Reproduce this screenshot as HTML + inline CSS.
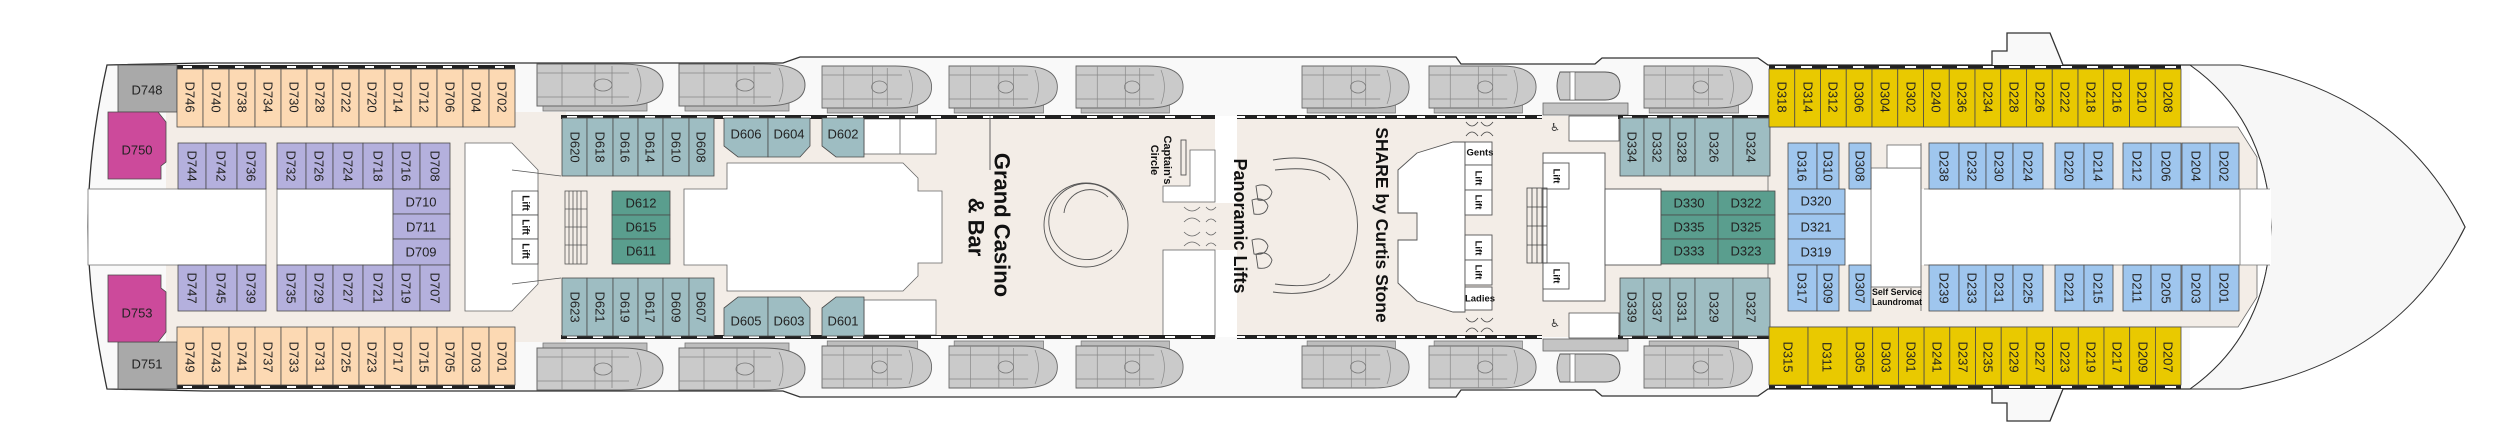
<!DOCTYPE html>
<html><head><meta charset="utf-8"><style>
html,body{margin:0;padding:0;background:#fff;}
svg{display:block;}
.t{font-family:"Liberation Sans",sans-serif;font-size:13px;fill:#222;text-anchor:middle;dominant-baseline:central;}
.b{font-family:"Liberation Sans",sans-serif;font-weight:bold;fill:#111;text-anchor:middle;dominant-baseline:central;}
.c{stroke:#4a4a4a;stroke-width:0.8;}
</style></head><body>
<svg width="2520" height="448" viewBox="0 0 2520 448" xmlns="http://www.w3.org/2000/svg">
<defs>
<g id="lb">
<rect x="6" y="38" width="104" height="9" fill="#bdbdbd" stroke="#777" stroke-width="0.8"/>
<path d="M0,0 H84 Q126,0 126,21 Q126,42 84,42 H0 Z" fill="#cacaca" stroke="#666" stroke-width="1"/>
<path d="M25,0 V42 M58,0 V42 M75,2 V40 M0,9 H92 M0,33 H92 M100,4 Q108,21 100,38" fill="none" stroke="#888" stroke-width="0.8"/>
<ellipse cx="66" cy="21" rx="9" ry="6" fill="none" stroke="#777" stroke-width="0.8"/>
</g>
</defs>

<!-- hull -->
<path d="M204,63 L783,63 L800,57 L1456,57 L1461,64 L1595,64 L1602,58 L1758,58 L1768,65 L1992,65 L1992,51 L2007,51 L2007,33 L2050,33 L2063,65 L2190,65 Q2400,95 2465,227 Q2400,359 2190,389 L2063,389 L2050,421 L2007,421 L2007,403 L1992,403 L1992,389 L1768,389 L1758,396 L1602,396 L1595,390 L1461,390 L1456,397 L800,397 L783,391 L204,391 L107,389 Q88,300 88,227 Q88,150 107,65 Z" fill="#f9f9f9" stroke="#333" stroke-width="1.3"/>
<path d="M2190,65 Q2268,120 2271,227 Q2268,334 2190,389" fill="#ffffff" stroke="#333" stroke-width="1"/>
<path d="M2190,65 L2240,65 Q2400,95 2465,227 Q2400,359 2240,389 L2190,389 Q2268,334 2271,227 Q2268,120 2190,65 Z" fill="#f7f7f7" stroke="#333" stroke-width="1"/>

<!-- beige public areas -->
<rect x="166" y="112" width="400" height="230" fill="#f3ede7"/>
<rect x="536" y="116" width="679" height="221" fill="#f3ede7"/>
<rect x="1237" y="116" width="531" height="221" fill="#f3ede7"/>
<rect x="1215" y="203" width="22" height="47" fill="#f3ede7"/>
<polygon points="1768,127 2238,127 2257,157 2257,297 2238,327 1768,327" fill="#f3ede7" stroke="#666" stroke-width="0.8"/>

<!-- white voids -->
<rect x="88" y="189" width="178" height="76" fill="#fff" stroke="#777" stroke-width="0.8"/>
<rect x="277" y="189" width="116" height="76" fill="#fff" stroke="#777" stroke-width="0.8"/>
<polygon points="465,143 512,143 538,170 538,284 512,311 465,311" fill="#fff" stroke="#666" stroke-width="0.8"/>
<polygon points="684,189 727,189 727,163 903,163 918,178 918,191 942,191 942,263 918,263 918,276 903,291 727,291 727,265 684,265" fill="#fff" stroke="#666" stroke-width="0.8"/>
<rect x="864" y="119" width="72" height="35" fill="#fff" stroke="#666" stroke-width="0.8"/>
<line x1="900" y1="119" x2="900" y2="154" stroke="#666" stroke-width="0.8"/>
<rect x="864" y="300" width="72" height="35" fill="#fff" stroke="#666" stroke-width="0.8"/>
<rect x="1215" y="116" width="22" height="87" fill="#fff"/>
<rect x="1215" y="250" width="22" height="87" fill="#fff"/>
<polygon points="1190,150 1215,150 1215,202 1163,202 1163,186 1190,186" fill="#fff" stroke="#666" stroke-width="0.8"/>
<rect x="1163" y="250" width="52" height="87" fill="#fff" stroke="#666" stroke-width="0.8"/>
<polygon points="1417,153 1453,142 1465,142 1465,312 1453,312 1417,301 1398,283 1398,240 1417,240 1417,213 1398,213 1398,170" fill="#fff" stroke="#555" stroke-width="0.9"/>
<rect x="1543" y="153" width="62" height="148" fill="#fff" stroke="#555" stroke-width="0.9"/>
<rect x="1605" y="189" width="56" height="76" fill="#fff" stroke="#555" stroke-width="0.9"/>
<rect x="1569" y="116" width="50" height="25" fill="#fff" stroke="#555" stroke-width="0.8"/>
<rect x="1569" y="313" width="50" height="25" fill="#fff" stroke="#555" stroke-width="0.8"/>
<rect x="1845" y="189" width="80" height="76" fill="#fff"/>
<rect x="1871" y="168" width="50" height="119" fill="#fff" stroke="#666" stroke-width="0.8"/>
<rect x="1887" y="145" width="34" height="23" fill="#fff" stroke="#666" stroke-width="0.8"/>
<rect x="1924" y="189" width="347" height="76" fill="#fff"/>
<line x1="1924" y1="189" x2="2270" y2="189" stroke="#777" stroke-width="0.8"/>
<line x1="1924" y1="265" x2="2270" y2="265" stroke="#777" stroke-width="0.8"/>
<line x1="2240" y1="189" x2="2240" y2="265" stroke="#777" stroke-width="0.8"/>
<line x1="1921" y1="143" x2="1921" y2="311" stroke="#666" stroke-width="0.8"/>

<!-- lifeboats top -->
<use href="#lb" transform="translate(537,64) scale(1,1)"/>
<use href="#lb" transform="translate(679,64) scale(1,1)"/>
<use href="#lb" transform="translate(822,66) scale(0.87,1)"/>
<use href="#lb" transform="translate(949,66) scale(0.86,1)"/>
<use href="#lb" transform="translate(1076,66) scale(0.85,1)"/>
<use href="#lb" transform="translate(1302,66) scale(0.85,1)"/>
<use href="#lb" transform="translate(1429,66) scale(0.85,1)"/>
<use href="#lb" transform="translate(1644,66) scale(0.86,1)"/>
<!-- lifeboats bottom -->
<use href="#lb" transform="translate(537,390) scale(1,-1)"/>
<use href="#lb" transform="translate(679,390) scale(1,-1)"/>
<use href="#lb" transform="translate(822,388) scale(0.87,-1)"/>
<use href="#lb" transform="translate(949,388) scale(0.86,-1)"/>
<use href="#lb" transform="translate(1076,388) scale(0.85,-1)"/>
<use href="#lb" transform="translate(1302,388) scale(0.85,-1)"/>
<use href="#lb" transform="translate(1429,388) scale(0.85,-1)"/>
<use href="#lb" transform="translate(1644,388) scale(0.86,-1)"/>
<!-- tenders -->
<rect x="1543" y="103" width="85" height="12" fill="#c4c4c4" stroke="#666" stroke-width="0.8"/>
<path d="M1560,72 H1605 Q1620,72 1620,86 Q1620,100 1605,100 H1560 Q1554,86 1560,72 Z" fill="#cacaca" stroke="#555" stroke-width="0.9"/>
<rect x="1570" y="72" width="5" height="28" fill="#fff" stroke="#555" stroke-width="0.6"/>
<rect x="1543" y="339" width="85" height="12" fill="#c4c4c4" stroke="#666" stroke-width="0.8"/>
<path d="M1560,354 H1605 Q1620,354 1620,368 Q1620,382 1605,382 H1560 Q1554,368 1560,354 Z" fill="#cacaca" stroke="#555" stroke-width="0.9"/>
<rect x="1570" y="354" width="5" height="28" fill="#fff" stroke="#555" stroke-width="0.6"/>

<!-- window bands -->
<g stroke-linecap="butt">
<line x1="177" y1="67" x2="515" y2="67" stroke="#222" stroke-width="4"/>
<line x1="177" y1="67" x2="515" y2="67" stroke="#fff" stroke-width="2" stroke-dasharray="9 17" stroke-dashoffset="-6"/>
<line x1="177" y1="387" x2="515" y2="387" stroke="#222" stroke-width="4"/>
<line x1="177" y1="387" x2="515" y2="387" stroke="#fff" stroke-width="2" stroke-dasharray="9 17" stroke-dashoffset="-6"/>
<line x1="561" y1="117" x2="1215" y2="117" stroke="#222" stroke-width="4"/>
<line x1="561" y1="117" x2="1215" y2="117" stroke="#fff" stroke-width="2" stroke-dasharray="10 16" stroke-dashoffset="-6"/>
<line x1="561" y1="337" x2="1215" y2="337" stroke="#222" stroke-width="4"/>
<line x1="561" y1="337" x2="1215" y2="337" stroke="#fff" stroke-width="2" stroke-dasharray="10 16" stroke-dashoffset="-6"/>
<line x1="1237" y1="117" x2="1542" y2="117" stroke="#222" stroke-width="4"/>
<line x1="1237" y1="117" x2="1542" y2="117" stroke="#fff" stroke-width="2" stroke-dasharray="8 12"/>
<line x1="1237" y1="337" x2="1542" y2="337" stroke="#222" stroke-width="4"/>
<line x1="1237" y1="337" x2="1542" y2="337" stroke="#fff" stroke-width="2" stroke-dasharray="8 12"/>
<line x1="1618" y1="117" x2="1770" y2="117" stroke="#222" stroke-width="4"/>
<line x1="1618" y1="117" x2="1770" y2="117" stroke="#fff" stroke-width="2" stroke-dasharray="9 16" stroke-dashoffset="-5"/>
<line x1="1618" y1="337" x2="1770" y2="337" stroke="#222" stroke-width="4"/>
<line x1="1618" y1="337" x2="1770" y2="337" stroke="#fff" stroke-width="2" stroke-dasharray="9 16" stroke-dashoffset="-5"/>
<line x1="1769" y1="67" x2="2181" y2="67" stroke="#222" stroke-width="4"/>
<line x1="1769" y1="67" x2="2181" y2="67" stroke="#fff" stroke-width="2" stroke-dasharray="11 15" stroke-dashoffset="-6"/>
<line x1="1769" y1="387" x2="2181" y2="387" stroke="#222" stroke-width="4"/>
<line x1="1769" y1="387" x2="2181" y2="387" stroke="#fff" stroke-width="2" stroke-dasharray="11 15" stroke-dashoffset="-6"/>
</g>

<!-- stern grey & magenta -->
<g class="c">
<rect x="118" y="65" width="59" height="47" fill="#a9a9a9"/>
<rect x="118" y="342" width="59" height="47" fill="#a9a9a9"/>
<polygon points="108,112 158,112 166,122 166,162 161,166 161,179 108,179" fill="#cc4a9b"/>
<polygon points="108,275 161,275 161,288 166,292 166,332 158,342 108,342" fill="#cc4a9b"/>
</g>
<text class="t" x="147" y="90">D748</text>
<text class="t" x="137" y="150">D750</text>
<text class="t" x="137" y="313">D753</text>
<text class="t" x="147" y="364">D751</text>

<!-- orange -->
<g class="c" fill="#fcd9b3">
<rect x="177" y="69" width="26" height="58"/><rect x="203" y="69" width="26" height="58"/><rect x="229" y="69" width="26" height="58"/><rect x="255" y="69" width="26" height="58"/><rect x="281" y="69" width="26" height="58"/><rect x="307" y="69" width="26" height="58"/><rect x="333" y="69" width="26" height="58"/><rect x="359" y="69" width="26" height="58"/><rect x="385" y="69" width="26" height="58"/><rect x="411" y="69" width="26" height="58"/><rect x="437" y="69" width="26" height="58"/><rect x="463" y="69" width="26" height="58"/><rect x="489" y="69" width="26" height="58"/>
<rect x="177" y="327" width="26" height="58"/><rect x="203" y="327" width="26" height="58"/><rect x="229" y="327" width="26" height="58"/><rect x="255" y="327" width="26" height="58"/><rect x="281" y="327" width="26" height="58"/><rect x="307" y="327" width="26" height="58"/><rect x="333" y="327" width="26" height="58"/><rect x="359" y="327" width="26" height="58"/><rect x="385" y="327" width="26" height="58"/><rect x="411" y="327" width="26" height="58"/><rect x="437" y="327" width="26" height="58"/><rect x="463" y="327" width="26" height="58"/><rect x="489" y="327" width="26" height="58"/>
</g>
<g class="t">
<text transform="translate(190,97) rotate(90)">D746</text><text transform="translate(216,97) rotate(90)">D740</text><text transform="translate(242,97) rotate(90)">D738</text><text transform="translate(268,97) rotate(90)">D734</text><text transform="translate(294,97) rotate(90)">D730</text><text transform="translate(320,97) rotate(90)">D728</text><text transform="translate(346,97) rotate(90)">D722</text><text transform="translate(372,97) rotate(90)">D720</text><text transform="translate(398,97) rotate(90)">D714</text><text transform="translate(424,97) rotate(90)">D712</text><text transform="translate(450,97) rotate(90)">D706</text><text transform="translate(476,97) rotate(90)">D704</text><text transform="translate(502,97) rotate(90)">D702</text>
<text transform="translate(190,357) rotate(90)">D749</text><text transform="translate(216,357) rotate(90)">D743</text><text transform="translate(242,357) rotate(90)">D741</text><text transform="translate(268,357) rotate(90)">D737</text><text transform="translate(294,357) rotate(90)">D733</text><text transform="translate(320,357) rotate(90)">D731</text><text transform="translate(346,357) rotate(90)">D725</text><text transform="translate(372,357) rotate(90)">D723</text><text transform="translate(398,357) rotate(90)">D717</text><text transform="translate(424,357) rotate(90)">D715</text><text transform="translate(450,357) rotate(90)">D705</text><text transform="translate(476,357) rotate(90)">D703</text><text transform="translate(502,357) rotate(90)">D701</text>
</g>

<!-- purple -->
<g class="c" fill="#b4b0dd">
<rect x="178" y="143" width="28" height="46"/><rect x="206" y="143" width="31" height="46"/><rect x="237" y="143" width="29" height="46"/>
<rect x="277" y="143" width="29" height="46"/><rect x="306" y="143" width="27" height="46"/><rect x="333" y="143" width="30" height="46"/><rect x="363" y="143" width="30" height="46"/><rect x="393" y="143" width="27" height="46"/><rect x="420" y="143" width="30" height="46"/>
<rect x="393" y="189" width="57" height="25"/><rect x="393" y="214" width="57" height="25"/><rect x="393" y="239" width="57" height="26"/>
<rect x="178" y="265" width="28" height="46"/><rect x="206" y="265" width="31" height="46"/><rect x="237" y="265" width="29" height="46"/>
<rect x="277" y="265" width="29" height="46"/><rect x="306" y="265" width="27" height="46"/><rect x="333" y="265" width="30" height="46"/><rect x="363" y="265" width="30" height="46"/><rect x="393" y="265" width="27" height="46"/><rect x="420" y="265" width="30" height="46"/>
</g>
<g class="t">
<text transform="translate(192,166) rotate(90)">D744</text><text transform="translate(221,166) rotate(90)">D742</text><text transform="translate(251,166) rotate(90)">D736</text>
<text transform="translate(291,166) rotate(90)">D732</text><text transform="translate(319,166) rotate(90)">D726</text><text transform="translate(348,166) rotate(90)">D724</text><text transform="translate(378,166) rotate(90)">D718</text><text transform="translate(406,166) rotate(90)">D716</text><text transform="translate(435,166) rotate(90)">D708</text>
<text x="421" y="202">D710</text><text x="421" y="227">D711</text><text x="421" y="252">D709</text>
<text transform="translate(192,288) rotate(90)">D747</text><text transform="translate(221,288) rotate(90)">D745</text><text transform="translate(251,288) rotate(90)">D739</text>
<text transform="translate(291,288) rotate(90)">D735</text><text transform="translate(319,288) rotate(90)">D729</text><text transform="translate(348,288) rotate(90)">D727</text><text transform="translate(378,288) rotate(90)">D721</text><text transform="translate(406,288) rotate(90)">D719</text><text transform="translate(435,288) rotate(90)">D707</text>
</g>

<!-- lift lobby aft -->
<g class="c" fill="#fff">
<rect x="512" y="191" width="26" height="24"/><rect x="512" y="215" width="26" height="24"/><rect x="512" y="239" width="26" height="25"/>
</g>
<g class="b" font-size="10">
<text transform="translate(525,203) rotate(90)">Lift</text><text transform="translate(525,227) rotate(90)">Lift</text><text transform="translate(525,251) rotate(90)">Lift</text>
</g>
<g stroke="#555" stroke-width="0.8" fill="none">
<rect x="565" y="191" width="22" height="73"/>
<path d="M569,191 V264 M573,191 V264 M577,191 V264 M581,191 V264 M565,209 H587 M565,227 H587 M565,245 H587"/>
<path d="M512,170 L561,176 M512,284 L561,278"/>
</g>

<!-- teal cabins aft -->
<g class="c" fill="#9ebdc2">
<rect x="562" y="118" width="25" height="58"/><rect x="587" y="118" width="26" height="58"/><rect x="613" y="118" width="25" height="58"/><rect x="638" y="118" width="25" height="58"/><rect x="663" y="118" width="26" height="58"/><rect x="689" y="118" width="25" height="58"/>
<rect x="562" y="278" width="25" height="58"/><rect x="587" y="278" width="26" height="58"/><rect x="613" y="278" width="25" height="58"/><rect x="638" y="278" width="25" height="58"/><rect x="663" y="278" width="26" height="58"/><rect x="689" y="278" width="25" height="58"/>
<polygon points="724,118 768,118 768,157 738,157 724,146"/><polygon points="768,118 810,118 810,146 800,157 768,157"/><polygon points="822,118 864,118 864,157 836,157 822,146"/>
<polygon points="724,308 738,297 768,297 768,336 724,336"/><polygon points="768,297 800,297 810,308 810,336 768,336"/><polygon points="822,308 836,297 864,297 864,336 822,336"/>
</g>
<g class="t">
<text transform="translate(575,147) rotate(90)">D620</text><text transform="translate(600,147) rotate(90)">D618</text><text transform="translate(625,147) rotate(90)">D616</text><text transform="translate(650,147) rotate(90)">D614</text><text transform="translate(676,147) rotate(90)">D610</text><text transform="translate(701,147) rotate(90)">D608</text>
<text transform="translate(575,307) rotate(90)">D623</text><text transform="translate(600,307) rotate(90)">D621</text><text transform="translate(625,307) rotate(90)">D619</text><text transform="translate(650,307) rotate(90)">D617</text><text transform="translate(676,307) rotate(90)">D609</text><text transform="translate(701,307) rotate(90)">D607</text>
<text x="746" y="134">D606</text><text x="789" y="134">D604</text><text x="843" y="134">D602</text>
<text x="746" y="321">D605</text><text x="789" y="321">D603</text><text x="843" y="321">D601</text>
</g>
<!-- green aft -->
<g class="c" fill="#5a9e8e">
<rect x="612" y="191" width="58" height="24"/><rect x="612" y="215" width="58" height="24"/><rect x="612" y="239" width="58" height="25"/>
</g>
<g class="t"><text x="641" y="203">D612</text><text x="641" y="227">D615</text><text x="641" y="251">D611</text></g>

<!-- casino -->
<g fill="none" stroke="#555" stroke-width="0.9">
<circle cx="1086" cy="225" r="42"/>
<path d="M1123,210 A38,38 0 1,0 1112,250"/>
<path d="M1064,213 A26,26 0 0,1 1108,197" />
<line x1="990" y1="116" x2="990" y2="170"/>
<rect x="1181" y="140" width="5" height="35"/>
</g>
<text class="b" font-size="22" transform="translate(1002,225) rotate(90)">Grand Casino</text>
<text class="b" font-size="22" transform="translate(976,227) rotate(90)">&amp; Bar</text>
<text class="b" font-size="11" font-weight="normal" transform="translate(1167,160) rotate(90)">Captain's</text>
<text class="b" font-size="11" font-weight="normal" transform="translate(1154,160) rotate(90)">Circle</text>
<g fill="none" stroke="#666" stroke-width="0.8">
<path d="M1184,207 q8,8 16,0 M1184,222 q8,-8 16,0 M1184,232 q8,8 16,0 M1184,246 q8,-8 16,0"/>
<path d="M1206,207 q5,6 10,0 M1206,222 q5,-6 10,0 M1206,232 q5,6 10,0 M1206,246 q5,-6 10,0"/>
</g>

<!-- SHARE -->
<text class="b" font-size="18" transform="translate(1240,226) rotate(90)">Panoramic Lifts</text>
<text class="b" font-size="17.5" transform="translate(1382,225) rotate(90)">SHARE by Curtis Stone</text>
<g fill="none" stroke="#555" stroke-width="0.9">
<path d="M1273,160 Q1330,150 1350,190 Q1365,225 1350,262 Q1330,300 1273,292"/>
<path d="M1275,170 Q1320,165 1330,180 M1275,284 Q1320,290 1330,274"/>
<path d="M1256,186 q12,-4 16,6 q-2,10 -14,8 z M1252,200 q12,-4 16,6 q-2,10 -14,8 z M1252,240 q12,-4 16,6 q-2,10 -14,8 z M1256,254 q12,-4 16,6 q-2,10 -14,8 z"/>
</g>
<g fill="#fff" stroke="#555" stroke-width="0.9">
<rect x="1465" y="142" width="27" height="23"/><rect x="1465" y="165" width="27" height="25"/><rect x="1465" y="190" width="27" height="25"/>
<rect x="1465" y="235" width="27" height="25"/><rect x="1465" y="260" width="27" height="25"/><rect x="1465" y="287" width="27" height="23"/>
<rect x="1543" y="163" width="26" height="26"/><rect x="1543" y="263" width="26" height="26"/>
</g>
<g fill="none" stroke="#444" stroke-width="0.8">
<rect x="1527" y="188" width="20" height="75"/>
<path d="M1532,188 V263 M1537,188 V263 M1542,188 V263 M1527,207 H1547 M1527,226 H1547 M1527,245 H1547"/>
<path d="M1466,122 q6,8 12,0 M1466,136 q6,-8 12,0 M1481,122 q6,8 12,0 M1481,136 q6,-8 12,0"/>
<path d="M1466,318 q6,8 12,0 M1466,332 q6,-8 12,0 M1481,318 q6,8 12,0 M1481,332 q6,-8 12,0"/>
</g>
<g class="b" font-size="9.5">
<text x="1480" y="153">Gents</text><text x="1480" y="299">Ladies</text>
<text transform="translate(1478,178) rotate(90)">Lift</text><text transform="translate(1478,202) rotate(90)">Lift</text>
<text transform="translate(1478,248) rotate(90)">Lift</text><text transform="translate(1478,272) rotate(90)">Lift</text>
<text transform="translate(1556,176) rotate(90)">Lift</text><text transform="translate(1556,276) rotate(90)">Lift</text>
</g>
<text x="1555" y="131" font-family="DejaVu Sans,sans-serif" font-size="11" fill="#333" text-anchor="middle">♿</text>
<text x="1555" y="327" font-family="DejaVu Sans,sans-serif" font-size="11" fill="#333" text-anchor="middle">♿</text>

<!-- forward teal & green -->
<g class="c" fill="#9ebdc2">
<rect x="1620" y="118" width="24" height="58"/><rect x="1644" y="118" width="26" height="58"/><rect x="1670" y="118" width="25" height="58"/><rect x="1695" y="118" width="38" height="58"/><rect x="1733" y="118" width="37" height="58"/>
<rect x="1620" y="278" width="24" height="58"/><rect x="1644" y="278" width="26" height="58"/><rect x="1670" y="278" width="25" height="58"/><rect x="1695" y="278" width="38" height="58"/><rect x="1733" y="278" width="37" height="58"/>
</g>
<g class="c" fill="#5a9e8e">
<rect x="1661" y="191" width="57" height="24"/><rect x="1718" y="191" width="57" height="24"/>
<rect x="1661" y="215" width="57" height="24"/><rect x="1718" y="215" width="57" height="24"/>
<rect x="1661" y="239" width="57" height="25"/><rect x="1718" y="239" width="57" height="25"/>
</g>
<g class="t">
<text transform="translate(1632,147) rotate(90)">D334</text><text transform="translate(1657,147) rotate(90)">D332</text><text transform="translate(1682,147) rotate(90)">D328</text><text transform="translate(1714,147) rotate(90)">D326</text><text transform="translate(1751,147) rotate(90)">D324</text>
<text transform="translate(1632,307) rotate(90)">D339</text><text transform="translate(1657,307) rotate(90)">D337</text><text transform="translate(1682,307) rotate(90)">D331</text><text transform="translate(1714,307) rotate(90)">D329</text><text transform="translate(1751,307) rotate(90)">D327</text>
<text x="1689" y="203">D330</text><text x="1746" y="203">D322</text>
<text x="1689" y="227">D335</text><text x="1746" y="227">D325</text>
<text x="1689" y="251">D333</text><text x="1746" y="251">D323</text>
</g>

<!-- yellow -->
<g class="c" fill="#e9c900">
<rect x="1769" y="69" width="25.75" height="58"/><rect x="1794.75" y="69" width="25.75" height="58"/><rect x="1820.5" y="69" width="25.75" height="58"/><rect x="1846.25" y="69" width="25.75" height="58"/><rect x="1872" y="69" width="25.75" height="58"/><rect x="1897.75" y="69" width="25.75" height="58"/><rect x="1923.5" y="69" width="25.75" height="58"/><rect x="1949.25" y="69" width="25.75" height="58"/><rect x="1975" y="69" width="25.75" height="58"/><rect x="2000.75" y="69" width="25.75" height="58"/><rect x="2026.5" y="69" width="25.75" height="58"/><rect x="2052.25" y="69" width="25.75" height="58"/><rect x="2078" y="69" width="25.75" height="58"/><rect x="2103.75" y="69" width="25.75" height="58"/><rect x="2129.5" y="69" width="25.75" height="58"/><rect x="2155.25" y="69" width="25.75" height="58"/>
<rect x="1769" y="327" width="39" height="58"/><rect x="1808" y="327" width="39" height="58"/>
<rect x="1847" y="327" width="25.7" height="58"/><rect x="1872.7" y="327" width="25.7" height="58"/><rect x="1898.4" y="327" width="25.7" height="58"/><rect x="1924.1" y="327" width="25.7" height="58"/><rect x="1949.8" y="327" width="25.7" height="58"/><rect x="1975.5" y="327" width="25.7" height="58"/><rect x="2001.2" y="327" width="25.7" height="58"/><rect x="2026.9" y="327" width="25.7" height="58"/><rect x="2052.6" y="327" width="25.7" height="58"/><rect x="2078.3" y="327" width="25.7" height="58"/><rect x="2104" y="327" width="25.7" height="58"/><rect x="2129.7" y="327" width="25.7" height="58"/><rect x="2155.4" y="327" width="25.6" height="58"/>
</g>
<g class="t">
<text transform="translate(1782,97) rotate(90)">D318</text><text transform="translate(1808,97) rotate(90)">D314</text><text transform="translate(1833,97) rotate(90)">D312</text><text transform="translate(1859,97) rotate(90)">D306</text><text transform="translate(1885,97) rotate(90)">D304</text><text transform="translate(1911,97) rotate(90)">D302</text><text transform="translate(1936,97) rotate(90)">D240</text><text transform="translate(1962,97) rotate(90)">D236</text><text transform="translate(1988,97) rotate(90)">D234</text><text transform="translate(2014,97) rotate(90)">D228</text><text transform="translate(2040,97) rotate(90)">D226</text><text transform="translate(2065,97) rotate(90)">D222</text><text transform="translate(2091,97) rotate(90)">D218</text><text transform="translate(2117,97) rotate(90)">D216</text><text transform="translate(2142,97) rotate(90)">D210</text><text transform="translate(2168,97) rotate(90)">D208</text>
<text transform="translate(1788,357) rotate(90)">D315</text><text transform="translate(1827,357) rotate(90)">D311</text><text transform="translate(1860,357) rotate(90)">D305</text><text transform="translate(1886,357) rotate(90)">D303</text><text transform="translate(1911,357) rotate(90)">D301</text><text transform="translate(1937,357) rotate(90)">D241</text><text transform="translate(1963,357) rotate(90)">D237</text><text transform="translate(1988,357) rotate(90)">D235</text><text transform="translate(2014,357) rotate(90)">D229</text><text transform="translate(2040,357) rotate(90)">D227</text><text transform="translate(2065,357) rotate(90)">D223</text><text transform="translate(2091,357) rotate(90)">D219</text><text transform="translate(2117,357) rotate(90)">D217</text><text transform="translate(2143,357) rotate(90)">D209</text><text transform="translate(2168,357) rotate(90)">D207</text>
</g>

<!-- blue -->
<g class="c" fill="#9fc6ee">
<rect x="1788" y="143" width="29" height="46"/><rect x="1817" y="143" width="22" height="46"/><rect x="1849" y="143" width="22" height="46"/>
<rect x="1929" y="143" width="30" height="46"/><rect x="1959" y="143" width="27" height="46"/><rect x="1986" y="143" width="27" height="46"/><rect x="2013" y="143" width="30" height="46"/><rect x="2055" y="143" width="29" height="46"/><rect x="2084" y="143" width="29" height="46"/><rect x="2123" y="143" width="28" height="46"/><rect x="2151" y="143" width="30" height="46"/><rect x="2182" y="143" width="28" height="46"/><rect x="2210" y="143" width="29" height="46"/>
<rect x="1788" y="189" width="57" height="25"/><rect x="1788" y="214" width="57" height="25"/><rect x="1788" y="239" width="57" height="26"/>
<rect x="1788" y="265" width="29" height="46"/><rect x="1817" y="265" width="22" height="46"/><rect x="1849" y="265" width="22" height="46"/>
<rect x="1929" y="265" width="30" height="46"/><rect x="1959" y="265" width="27" height="46"/><rect x="1986" y="265" width="27" height="46"/><rect x="2013" y="265" width="30" height="46"/><rect x="2055" y="265" width="29" height="46"/><rect x="2084" y="265" width="29" height="46"/><rect x="2123" y="265" width="28" height="46"/><rect x="2151" y="265" width="30" height="46"/><rect x="2182" y="265" width="28" height="46"/><rect x="2210" y="265" width="29" height="46"/>
</g>
<g class="t">
<text transform="translate(1802,166) rotate(90)">D316</text><text transform="translate(1828,166) rotate(90)">D310</text><text transform="translate(1860,166) rotate(90)">D308</text>
<text transform="translate(1944,166) rotate(90)">D238</text><text transform="translate(1972,166) rotate(90)">D232</text><text transform="translate(1999,166) rotate(90)">D230</text><text transform="translate(2028,166) rotate(90)">D224</text><text transform="translate(2069,166) rotate(90)">D220</text><text transform="translate(2098,166) rotate(90)">D214</text><text transform="translate(2137,166) rotate(90)">D212</text><text transform="translate(2166,166) rotate(90)">D206</text><text transform="translate(2196,166) rotate(90)">D204</text><text transform="translate(2224,166) rotate(90)">D202</text>
<text x="1816" y="201">D320</text><text x="1816" y="227">D321</text><text x="1816" y="252">D319</text>
<text transform="translate(1802,288) rotate(90)">D317</text><text transform="translate(1828,288) rotate(90)">D309</text><text transform="translate(1860,288) rotate(90)">D307</text>
<text transform="translate(1944,288) rotate(90)">D239</text><text transform="translate(1972,288) rotate(90)">D233</text><text transform="translate(1999,288) rotate(90)">D231</text><text transform="translate(2028,288) rotate(90)">D225</text><text transform="translate(2069,288) rotate(90)">D221</text><text transform="translate(2098,288) rotate(90)">D215</text><text transform="translate(2137,288) rotate(90)">D211</text><text transform="translate(2166,288) rotate(90)">D205</text><text transform="translate(2196,288) rotate(90)">D203</text><text transform="translate(2224,288) rotate(90)">D201</text>
</g>
<g class="b" font-size="9">
<text x="1897" y="292" textLength="50" lengthAdjust="spacingAndGlyphs">Self Service</text>
<text x="1897" y="302" textLength="50" lengthAdjust="spacingAndGlyphs">Laundromat</text>
</g>
</svg>
</body></html>
